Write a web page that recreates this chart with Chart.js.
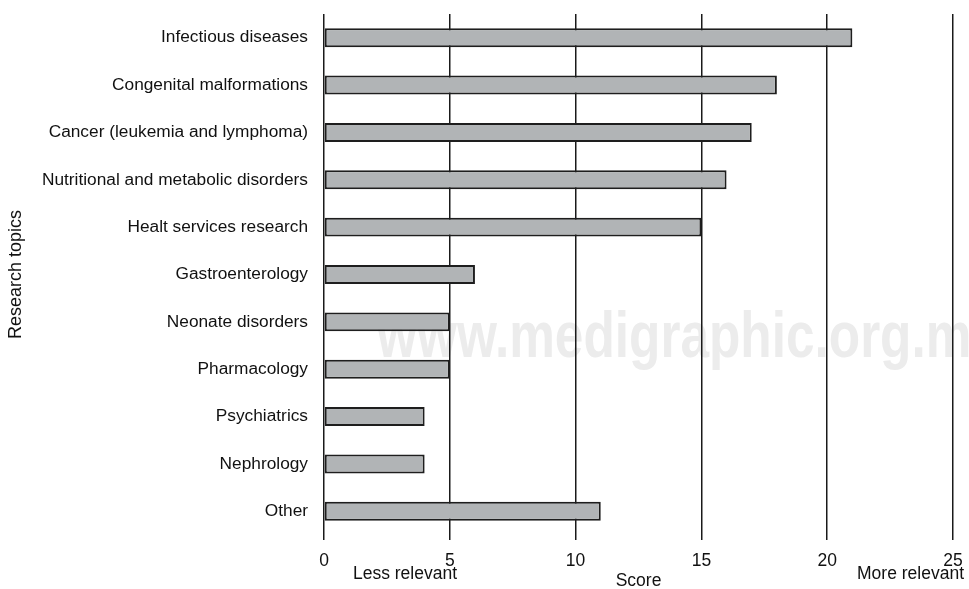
<!DOCTYPE html>
<html>
<head>
<meta charset="utf-8">
<script src="https://cdn.jsdelivr.net/npm/chart.js@4/dist/chart.umd.min.js"></script>
<style>
  html, body { margin: 0; padding: 0; background: #ffffff; }
  #wrap { width: 969px; height: 589px; position: relative; }
</style>
</head>
<body>
<div id="wrap"><canvas id="c" width="969" height="589"></canvas></div>
<script>
const categories = [
  "Infectious diseases",
  "Congenital malformations",
  "Cancer (leukemia and lymphoma)",
  "Nutritional and metabolic disorders",
  "Healt services research",
  "Gastroenterology",
  "Neonate disorders",
  "Pharmacology",
  "Psychiatrics",
  "Nephrology",
  "Other"
];
const scores = [21, 18, 17, 16, 15, 6, 5, 5, 4, 4, 11];
const xTicks = [0, 5, 10, 15, 20, 25];
const xTitle = "Score";
const yTitle = "Research topics";
const lowLabel = "Less relevant";
const highLabel = "More relevant";
const watermark = "www.medigraphic.org.mx";

const FONT = "'Liberation Sans', Arial, Helvetica, sans-serif";

const extras = {
  id: 'extras',
  beforeDraw(chart) {
    const ctx = chart.ctx;
    ctx.save();
    ctx.fillStyle = '#ffffff';
    ctx.fillRect(0, 0, chart.width, chart.height);
    // watermark (behind grid and bars)
    ctx.fillStyle = '#ececec';
    ctx.font = 'bold 65px ' + FONT;
    ctx.textBaseline = 'alphabetic';
    ctx.textAlign = 'left';
    ctx.translate(377, 357);
    ctx.scale(0.79, 1);
    ctx.fillText(watermark, 0, 0);
    ctx.restore();
  },
  afterDraw(chart) {
    const ctx = chart.ctx;
    ctx.save();
    ctx.fillStyle = '#111111';
    ctx.font = '17.5px ' + FONT;
    ctx.textBaseline = 'middle';
    ctx.textAlign = 'center';
    ctx.fillText(lowLabel, 405, 574);
    ctx.textAlign = 'right';
    ctx.fillText(highLabel, 964, 574);
    ctx.restore();
  }
};

new Chart(document.getElementById('c'), {
  type: 'bar',
  data: {
    labels: categories,
    datasets: [{
      data: scores,
      backgroundColor: '#b1b4b6',
      borderColor: '#1e1e1e',
      borderWidth: 2,
      borderSkipped: false,
      barPercentage: 0.4,
      categoryPercentage: 1.0
    }]
  },
  options: {
    indexAxis: 'y',
    responsive: false,
    animation: false,
    layout: { padding: { top: 14, right: 16, bottom: 0, left: 0 } },
    plugins: {
      legend: { display: false },
      tooltip: { enabled: false }
    },
    scales: {
      x: {
        min: 0,
        max: 25,
        afterFit(s) { s.height = 54; s.paddingLeft = 0; s.paddingRight = 0; },
        afterBuildTicks(s) { s.ticks = xTicks.map(v => ({ value: v })); },
        ticks: {
          color: '#111111',
          font: { family: FONT, size: 17.5 },
          padding: 11,
          maxRotation: 0
        },
        grid: {
          color: '#1a1a1a',
          lineWidth: 1.5,
          drawTicks: true,
          tickLength: 5
        },
        border: { display: false },
        title: {
          display: true,
          text: xTitle,
          color: '#111111',
          font: { family: FONT, size: 17.5 },
          padding: { top: 0, bottom: -3 }
        }
      },
      y: {
        afterFit(s) { s.width = 324; s.paddingTop = 0; s.paddingBottom = 0; },
        ticks: {
          color: '#111111',
          font: { family: FONT, size: 17.3 },
          padding: 16
        },
        grid: { display: false, drawTicks: false },
        border: { display: false },
        title: {
          display: true,
          text: yTitle,
          color: '#111111',
          font: { family: FONT, size: 18 },
          padding: { top: 5, bottom: 0 }
        }
      }
    }
  },
  plugins: [extras]
});
</script>
</body>
</html>
